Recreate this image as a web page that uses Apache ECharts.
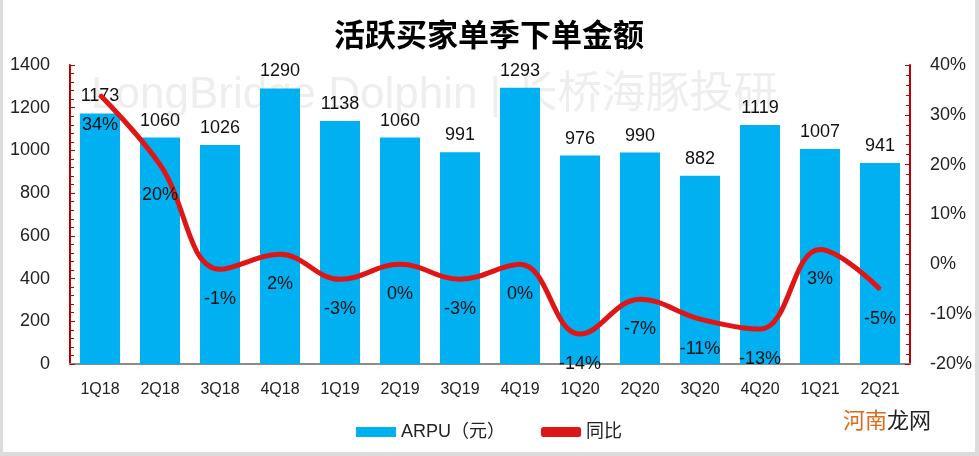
<!DOCTYPE html>
<html>
<head>
<meta charset="utf-8">
<script src="https://cdn.jsdelivr.net/npm/echarts@6/dist/echarts.min.js"></script>
<style>
  html, body { margin: 0; padding: 0; background: #fff; }
  #main { width: 979px; height: 456px; box-sizing: border-box; border-left: 3px solid #dcdcdc; border-right: 4px solid #dcdcdc; border-bottom: 4px solid #dcdcdc; }
</style>
</head>
<body>
<div id="main"></div>
<script>
const quarters = ['1Q18','2Q18','3Q18','4Q18','1Q19','2Q19','3Q19','4Q19','1Q20','2Q20','3Q20','4Q20','1Q21','2Q21'];
const arpu = [1173,1060,1026,1290,1138,1060,991,1293,976,990,882,1119,1007,941];
const yoy = [34,20,-1,2,-3,0,-3,0,-14,-7,-11,-13,3,-5];

const font = 'Liberation Sans, Noto Sans CJK SC, sans-serif';
const myChart = echarts.init(document.getElementById('main'));
const option = {
  animation: false,
  title: {
    text: '活跃买家单季下单金额',
    left: 'center',
    top: 14,
    textStyle: { fontSize: 31, fontWeight: 'bold', color: '#000', fontFamily: 'Noto Sans CJK SC' }
  },
  graphic: [
    {
      type: 'text', left: 88, top: 74, z: 0,
      style: { text: 'LongBridge Dolphin | 长桥海豚投研', fill: '#eeeeee', font: '44px Liberation Sans, Noto Sans CJK SC' }
    },
    {
      type: 'text', left: 840, top: 409, z: 10,
      style: { rich: { a: { fill: '#e06a1b', fontSize: 22, fontFamily: 'Noto Sans CJK SC' }, b: { fill: '#222', fontSize: 22, fontFamily: 'Noto Sans CJK SC' } }, text: '{a|河南}{b|龙网}' }
    }
  ],
  legend: {
    bottom: 6,
    left: 'center',
    itemGap: 36,
    itemWidth: 40,
    itemHeight: 10,
    textStyle: { fontSize: 18, color: '#222', fontFamily: font },
    data: [
      { name: 'ARPU（元）', icon: 'rect' },
      { name: '同比', icon: 'roundRect', itemStyle: { color: '#e01515' } }
    ]
  },
  grid: { left: 67, right: 64, top: 65, bottom: 88 },
  xAxis: {
    type: 'category',
    data: quarters,
    axisLine: { lineStyle: { color: '#8c8c8c', width: 2 } },
    axisTick: { show: false },
    axisLabel: { fontSize: 16, color: '#222', margin: 18, fontFamily: font }
  },
  yAxis: [
    {
      type: 'value', min: 0, max: 1400, interval: 200,
      axisLine: { show: true, lineStyle: { color: '#c00000', width: 2 } },
      axisTick: { show: true, inside: true, length: 5, lineStyle: { color: '#c00000' } },
      minorTick: { show: true, splitNumber: 5, length: 4, lineStyle: { color: '#c00000' } },
      splitLine: { show: false },
      axisLabel: { fontSize: 18, color: '#222', margin: 20, fontFamily: font, formatter: v => String(v) }
    },
    {
      type: 'value', min: -20, max: 40, interval: 10,
      axisLine: { show: true, lineStyle: { color: '#c00000', width: 2 } },
      axisTick: { show: true, inside: true, length: 5, lineStyle: { color: '#c00000' } },
      minorTick: { show: true, splitNumber: 5, length: 4, lineStyle: { color: '#c00000' } },
      splitLine: { show: false },
      axisLabel: { fontSize: 18, color: '#222', margin: 20, formatter: '{value}%', fontFamily: font }
    }
  ],
  series: [
    {
      name: 'ARPU（元）',
      type: 'bar',
      data: arpu,
      barWidth: 40,
      itemStyle: { color: '#00b0f0' },
      label: { show: true, position: 'top', fontSize: 18, color: '#111', distance: 8, fontFamily: font },
      z: 2
    },
    {
      name: '同比',
      type: 'line',
      yAxisIndex: 1,
      data: yoy,
      smooth: 0.4,
      symbol: 'circle',
      symbolSize: 2,
      showSymbol: true,
      lineStyle: { color: '#e01515', width: 5 },
      itemStyle: { color: '#e01515' },
      label: { show: true, position: 'bottom', distance: 20, fontSize: 18, color: '#111', formatter: '{c}%', fontFamily: font },
      labelLayout: { hideOverlap: false },
      z: 3
    }
  ]
};
option && myChart.setOption(option);
</script>
</body>
</html>
